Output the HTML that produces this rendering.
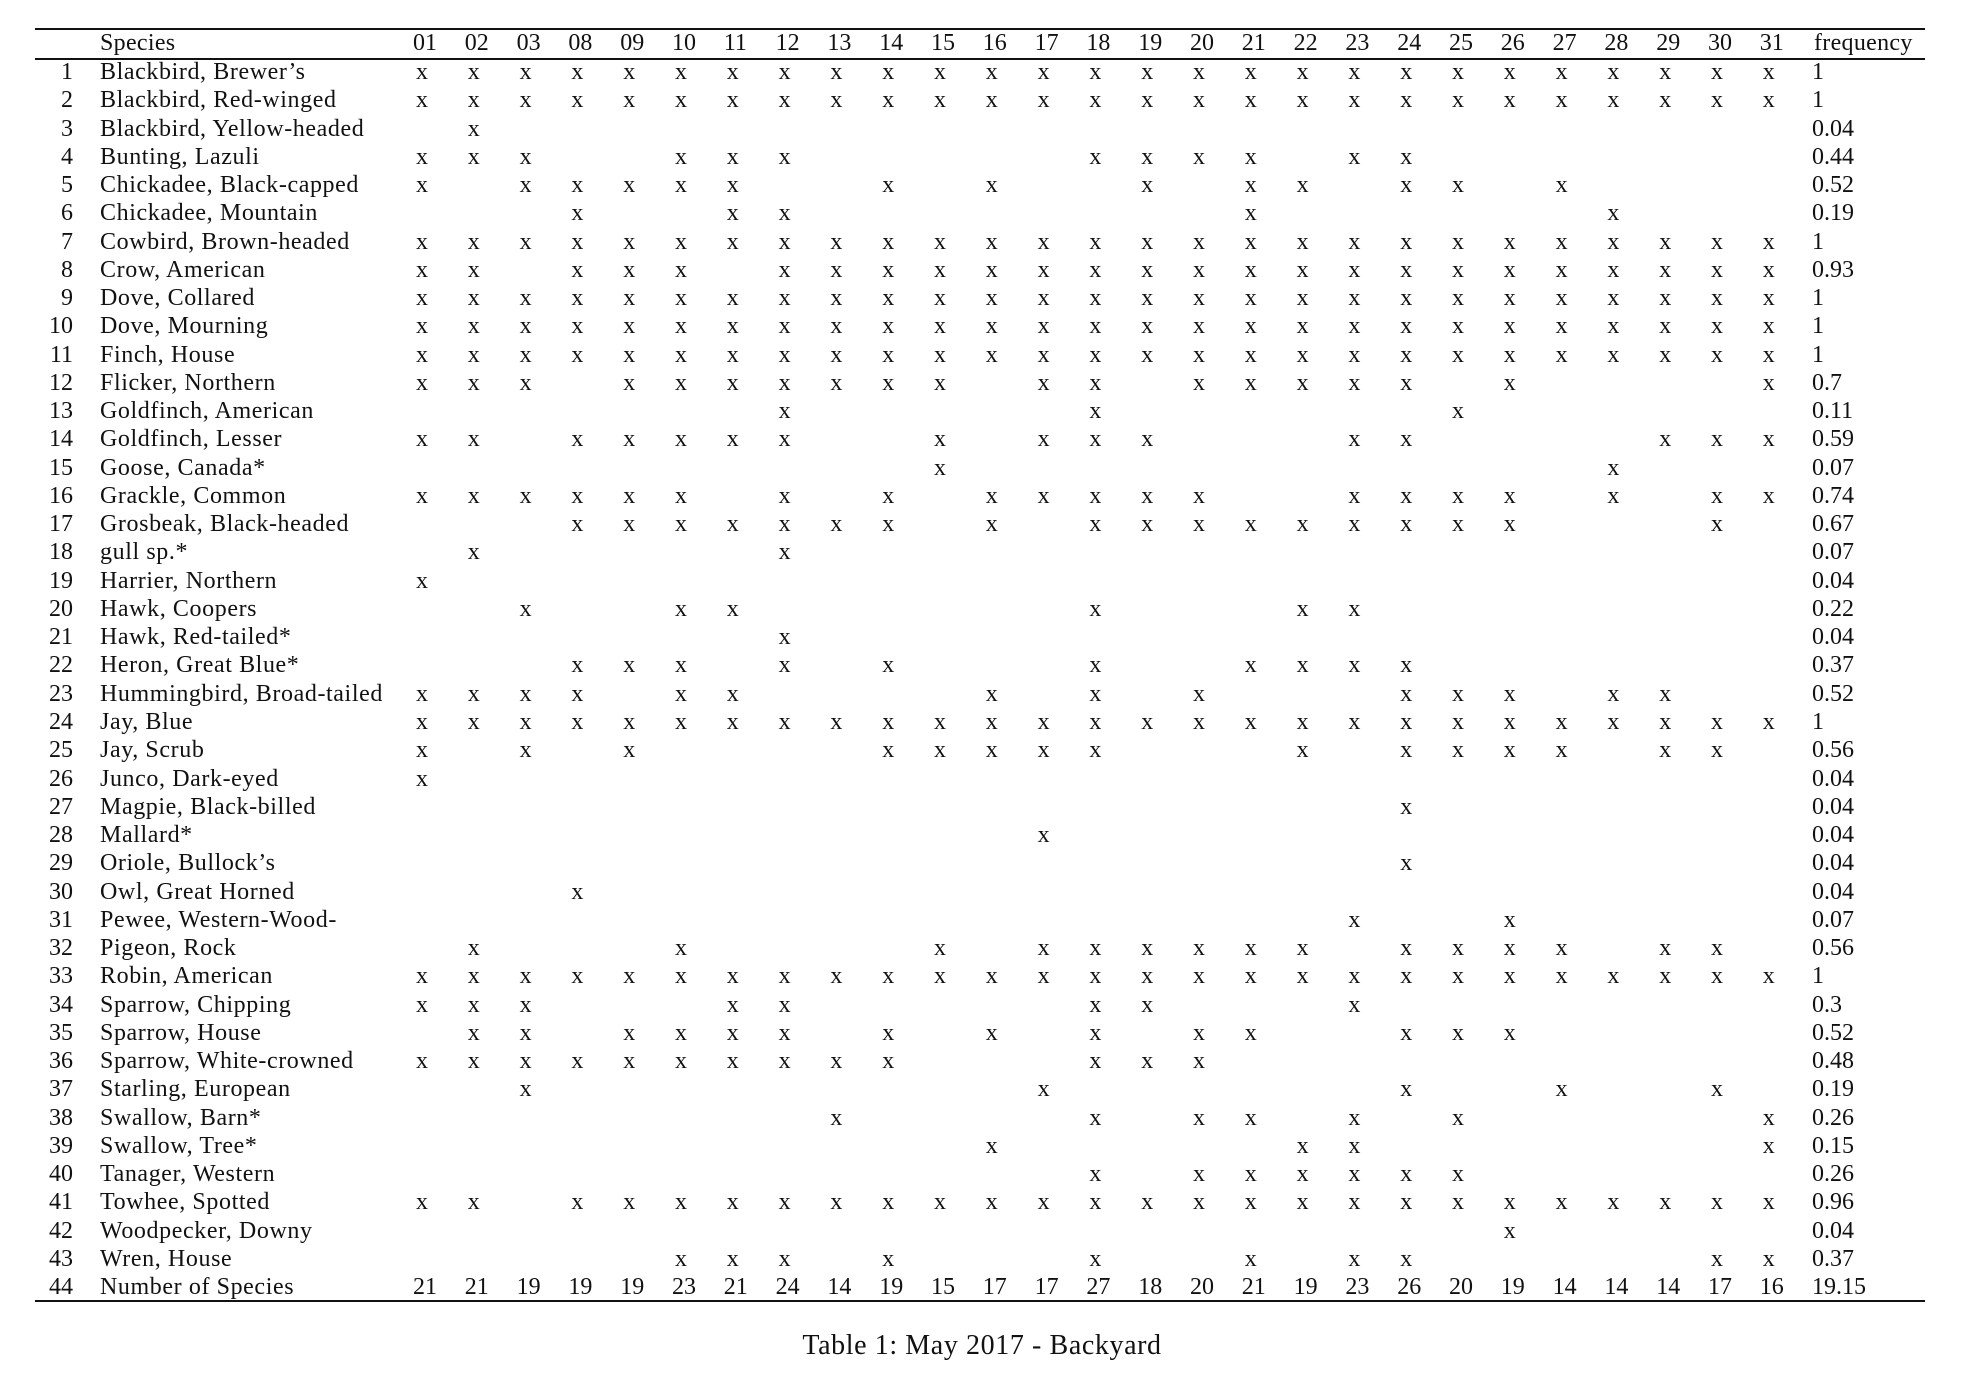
<!DOCTYPE html>
<html><head><meta charset="utf-8">
<style>
html,body{margin:0;padding:0;background:#fff;}
#page{position:relative;width:1970px;height:1384px;overflow:hidden;background:#fff;font-family:"Liberation Serif",serif;color:#111;font-size:24px;}
.t{position:absolute;height:28px;line-height:28px;white-space:nowrap;}
.rule{position:absolute;left:35px;width:1890px;height:2px;background:#111;}
</style></head>
<body>
<div id="page">
  <div class="rule" style="top:28px"></div>
  <div class="rule" style="top:58px"></div>
  <div class="rule" style="top:1300px"></div>
  <div class="t" style="left:782px;top:1332px;width:400px;text-align:center;font-size:28px;letter-spacing:0.6px;">Table 1: May 2017 - Backyard</div>
</div>
<script>
const days = ["01","02","03","08","09","10","11","12","13","14","15","16","17","18","19","20","21","22","23","24","25","26","27","28","29","30","31"];
const species = ["Blackbird, Brewer’s","Blackbird, Red-winged","Blackbird, Yellow-headed","Bunting, Lazuli","Chickadee, Black-capped","Chickadee, Mountain","Cowbird, Brown-headed","Crow, American","Dove, Collared","Dove, Mourning","Finch, House","Flicker, Northern","Goldfinch, American","Goldfinch, Lesser","Goose, Canada*","Grackle, Common","Grosbeak, Black-headed","gull sp.*","Harrier, Northern","Hawk, Coopers","Hawk, Red-tailed*","Heron, Great Blue*","Hummingbird, Broad-tailed","Jay, Blue","Jay, Scrub","Junco, Dark-eyed","Magpie, Black-billed","Mallard*","Oriole, Bullock’s","Owl, Great Horned","Pewee, Western-Wood-","Pigeon, Rock","Robin, American","Sparrow, Chipping","Sparrow, House","Sparrow, White-crowned","Starling, European","Swallow, Barn*","Swallow, Tree*","Tanager, Western","Towhee, Spotted","Woodpecker, Downy","Wren, House"];
const sightings = [
"ALL","ALL",["02"],
["01","02","03","10","11","12","18","19","20","21","23","24"],
["01","03","08","09","10","11","14","16","19","21","22","24","25","27"],
["08","11","12","21","28"],
"ALL",
"ALL-03,11",
"ALL","ALL","ALL",
["01","02","03","09","10","11","12","13","14","15","17","18","20","21","22","23","24","26","31"],
["12","18","25"],
["01","02","08","09","10","11","12","15","17","18","19","23","24","29","30","31"],
["15","28"],
["01","02","03","08","09","10","12","14","16","17","18","19","20","23","24","25","26","28","30","31"],
["08","09","10","11","12","13","14","16","18","19","20","21","22","23","24","25","26","30"],
["02","12"],["01"],
["03","10","11","18","22","23"],
["12"],
["08","09","10","12","14","18","21","22","23","24"],
["01","02","03","08","10","11","16","18","20","24","25","26","28","29"],
"ALL",
["01","03","09","14","15","16","17","18","22","24","25","26","27","29","30"],
["01"],["24"],["17"],["24"],["08"],["23","26"],
["02","10","15","17","18","19","20","21","22","24","25","26","27","29","30"],
"ALL",
["01","02","03","11","12","18","19","23"],
["02","03","09","10","11","12","14","16","18","20","21","24","25","26"],
["01","02","03","08","09","10","11","12","13","14","18","19","20"],
["03","17","24","27","30"],
["13","18","20","21","23","25","31"],
["16","22","23","31"],
["18","20","21","22","23","24","25"],
"ALL-03",
["26"],
["10","11","12","14","18","21","23","24","30","31"]
];
const frequency = ["1","1","0.04","0.44","0.52","0.19","1","0.93","1","1","1","0.7","0.11","0.59","0.07","0.74","0.67","0.07","0.04","0.22","0.04","0.37","0.52","1","0.56","0.04","0.04","0.04","0.04","0.04","0.07","0.56","1","0.3","0.52","0.48","0.19","0.26","0.15","0.26","0.96","0.04","0.37"];
const totals = ["21","21","19","19","19","23","21","24","14","19","15","17","17","27","18","20","21","19","23","26","20","19","14","14","14","17","16"];
const totalFreq = "19.15";

const page = document.getElementById('page');
const colX = i => 413 + i * 51.8;
const rowY = r => 72 + r * 28.26;
function txt(s, left, cy, name, extra) {
  const d = document.createElement('div');
  d.className = 't';
  d.textContent = s;
  d.style.left = left + 'px';
  d.style.top = (cy - 14) + 'px';
  if (extra) Object.assign(d.style, extra);
  
  
  page.appendChild(d);
  return d;
}
function hasDay(spec, day) {
  if (spec === "ALL") return true;
  if (typeof spec === "string" && spec.startsWith("ALL-")) return !spec.slice(4).split(",").includes(day);
  return spec.includes(day);
}
txt("Species", 100, 43, 'header-species', {letterSpacing: '0.3px'});
days.forEach((d, i) => txt(d, colX(i), 43, 'header-day-' + d));
txt("frequency", 1814, 43, 'header-frequency', {letterSpacing: '0.3px'});
species.forEach((sp, r) => {
  const y = rowY(r);
  txt(String(r + 1), 20, y, 'row-number', {width: '53px', textAlign: 'right'});
  txt(sp, 100, y, 'species-name', {letterSpacing: '0.6px'});
  days.forEach((d, i) => {
    if (hasDay(sightings[r], d)) txt("x", colX(i) + 3, y, 'sighting-mark');
  });
  txt(frequency[r], 1812, y, 'frequency-value');
});
const ty = rowY(43);
txt("44", 20, ty, 'row-number', {width: '53px', textAlign: 'right'});
txt("Number of Species", 100, ty, 'total-label', {letterSpacing: '0.6px'});
totals.forEach((v, i) => txt(v, colX(i), ty, 'total-count'));
txt(totalFreq, 1812, ty, 'total-frequency');
</script>
</body></html>
